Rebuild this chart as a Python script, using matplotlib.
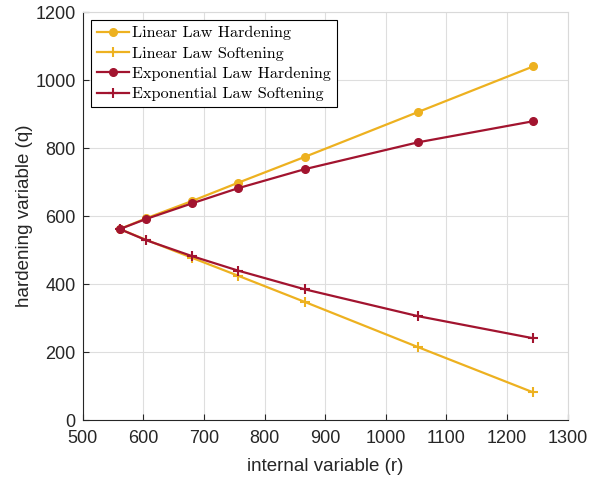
import matplotlib.pyplot as plt

# internal variable r at each sample
r = [561, 605, 681, 756, 866, 1053, 1243]

# hardening variable q for each law
lin_hard = [562, 594, 645, 698, 774, 906, 1040]
lin_soft = [562, 530, 477, 425, 348, 215, 82]
exp_hard = [562, 592, 638, 682, 738, 817, 879]
exp_soft = [562, 529, 482, 440, 385, 306, 241]

yellow = '#EDB120'
red = '#A2142F'

plt.rcParams['font.family'] = ['Liberation Sans', 'DejaVu Sans']

fig = plt.figure(figsize=(6, 4.83), dpi=100)
ax = fig.add_axes([0.138, 0.13, 0.808, 0.845])

ax.plot(r, lin_hard, color=yellow, marker='o', markersize=5.5, linewidth=1.6, label='Linear Law Hardening')
ax.plot(r, lin_soft, color=yellow, marker='+', markersize=7, markeredgewidth=1.5, linewidth=1.6, label='Linear Law Softening')
ax.plot(r, exp_hard, color=red, marker='o', markersize=5.5, linewidth=1.6, label='Exponential Law Hardening')
ax.plot(r, exp_soft, color=red, marker='+', markersize=7, markeredgewidth=1.5, linewidth=1.6, label='Exponential Law Softening')

ax.set_xlim(500, 1300)
ax.set_ylim(0, 1200)
ax.set_xticks(range(500, 1301, 100))
ax.set_yticks(range(0, 1201, 200))
ax.tick_params(direction='in', labelsize=13, length=4, color='#262626', labelcolor='#262626')
ax.tick_params(axis='x', pad=7)
ax.tick_params(axis='y', pad=5)
ax.grid(True, color='#dedede', linewidth=0.8)
ax.set_axisbelow(True)

for s in ['top', 'right']:
    ax.spines[s].set_color('#d9d9d9')
for s in ['left', 'bottom']:
    ax.spines[s].set_color('#262626')

ax.set_xlabel('internal variable (r)', fontsize=13.5, color='#262626', labelpad=8)
ax.set_ylabel('hardening variable (q)', fontsize=13.5, color='#262626', labelpad=2)

leg = ax.legend(loc='upper left', prop={'family': 'cmr10', 'size': 11.7}, fancybox=False,
                edgecolor='black', framealpha=1, handlelength=2.0, borderpad=0.35,
                labelspacing=0.37, handletextpad=0.2, borderaxespad=0.5)
leg.get_frame().set_linewidth(0.8)

fig.savefig('out.png', dpi=100)
